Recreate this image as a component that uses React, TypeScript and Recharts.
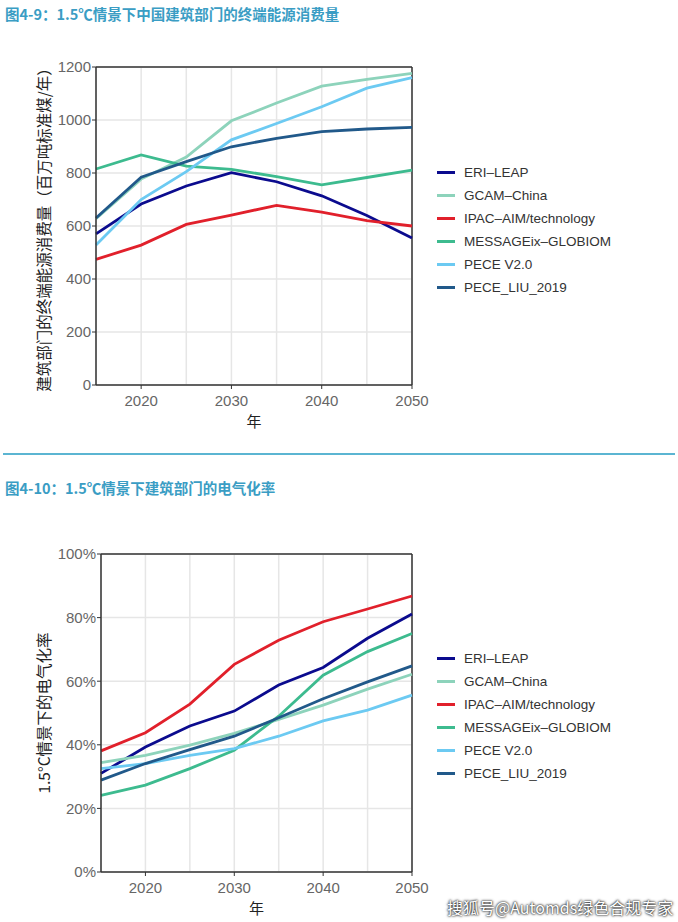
import { CartesianGrid, Line, LineChart, ReferenceLine, XAxis, YAxis } from "recharts";

const years = [2015, 2020, 2025, 2030, 2035, 2040, 2045, 2050];
const xTicks = [2020, 2030, 2040, 2050];
const minorYears = [2025, 2035, 2045];

const seriesNames = [
  "ERI–LEAP",
  "GCAM–China",
  "IPAC–AIM/technology",
  "MESSAGEix–GLOBIOM",
  "PECE V2.0",
  "PECE_LIU_2019",
];
const seriesColors = ["#0B0B8E", "#8DD3BB", "#E1202B", "#3DBB8F", "#6CCAF2", "#21598A"];

// 图4-9 终端能源消费量（百万吨标准煤/年）
const energyEri = [570, 683, 751, 801, 767, 714, 640, 555];
const energyGcam = [628, 777, 860, 997, 1064, 1128, 1153, 1176];
const energyIpac = [474, 528, 606, 641, 678, 652, 620, 600];
const energyMessage = [815, 868, 826, 814, 786, 755, 783, 811];
const energyPece = [528, 700, 805, 925, 987, 1050, 1120, 1160];
const energyLiu = [630, 784, 843, 899, 931, 956, 966, 972];
const energyTicks = [0, 200, 400, 600, 800, 1000, 1200];

// 图4-10 电气化率（%）
const elecEri = [31.0, 39.3, 45.9, 50.6, 58.8, 64.3, 73.5, 81.1];
const elecGcam = [34.4, 36.7, 39.9, 43.6, 48.0, 52.5, 57.5, 62.2];
const elecIpac = [38.1, 43.8, 52.8, 65.3, 72.9, 78.7, 82.7, 86.8];
const elecMessage = [24.1, 27.3, 32.5, 38.3, 49.0, 61.9, 69.3, 75.0];
const elecPece = [32.5, 34.1, 36.7, 38.8, 42.7, 47.5, 50.9, 55.6];
const elecLiu = [28.9, 34.1, 38.5, 42.7, 48.5, 54.5, 59.8, 64.8];
const elecTicks = [0, 20, 40, 60, 80, 100];

const keys = ["s0", "s1", "s2", "s3", "s4", "s5"];

function buildRows(series: number[][]) {
  return years.map((year, i) => {
    const row: Record<string, number> = { year };
    series.forEach((values, s) => {
      row[keys[s]] = values[i];
    });
    return row;
  });
}

const energyRows = buildRows([energyEri, energyGcam, energyIpac, energyMessage, energyPece, energyLiu]);
const elecRows = buildRows([elecEri, elecGcam, elecIpac, elecMessage, elecPece, elecLiu]);

const FONT = '"Liberation Sans", "Noto Sans CJK SC", sans-serif';
const CJK = '"Noto Sans CJK SC", "Liberation Sans", sans-serif';
const AXIS = "#333333";
const GRID = "#E6E6E6";
const TICK = { fontSize: 15, fill: "#666666", fontFamily: FONT };

interface ChartProps {
  rows: Record<string, number>[];
  top: number;
  height: number;
  margin: { top: number; right: number; bottom: number; left: number };
  yWidth: number;
  yTicks: number[];
  yMax: number;
  yLabel: string;
  labelOffset: number;
  percent?: boolean;
}

function ModelChart({ rows, top, height, margin, yWidth, yTicks, yMax, yLabel, labelOffset, percent }: ChartProps) {
  return (
    <div style={{ position: "absolute", left: 0, top }}>
      <LineChart width={678} height={height} data={rows} margin={margin}>
        <CartesianGrid stroke={GRID} strokeWidth={1.5} />
        {minorYears.map((y) => (
          <ReferenceLine key={y} x={y} stroke={GRID} strokeWidth={1.5} />
        ))}
        <XAxis
          dataKey="year"
          type="number"
          domain={[2015, 2050]}
          ticks={xTicks}
          height={45}
          tick={TICK}
          tickSize={4}
          tickMargin={6}
          axisLine={{ stroke: AXIS, strokeWidth: 1.5 }}
          tickLine={{ stroke: AXIS }}
          label={{
            value: "年",
            position: "insideBottom",
            offset: 3,
            style: { fontSize: 15, fill: "#222", fontFamily: CJK },
          }}
        />
        <YAxis
          type="number"
          domain={[0, yMax]}
          ticks={yTicks}
          width={yWidth}
          tick={TICK}
          tickSize={4}
          tickMargin={1}
          tickFormatter={(v) => (percent ? `${v}%` : `${v}`)}
          axisLine={{ stroke: AXIS, strokeWidth: 1.5 }}
          tickLine={{ stroke: AXIS }}
          label={{
            value: yLabel,
            angle: -90,
            position: "insideLeft",
            offset: labelOffset,
            style: { fontSize: 15.5, fill: "#222", fontFamily: CJK, textAnchor: "middle" },
          }}
        />
        <ReferenceLine y={yMax} stroke={AXIS} strokeWidth={1.5} />
        <ReferenceLine x={2050} stroke={AXIS} strokeWidth={1.5} />
        {keys.map((k, i) => (
          <Line
            key={k}
            dataKey={k}
            type="linear"
            stroke={seriesColors[i]}
            strokeWidth={2.8}
            dot={false}
            isAnimationActive={false}
          />
        ))}
      </LineChart>
    </div>
  );
}

function Legend({ top }: { top: number }) {
  return (
    <div style={{ position: "absolute", left: 437, top, fontFamily: FONT, fontSize: 13.5, color: "#333" }}>
      {seriesNames.map((name, i) => (
        <div key={name} style={{ display: "flex", alignItems: "center", height: 23 }}>
          <span style={{ width: 18, height: 3, background: seriesColors[i], marginRight: 9 }} />
          <span>{name}</span>
        </div>
      ))}
    </div>
  );
}

const titleStyle: React.CSSProperties = {
  position: "absolute",
  left: 5,
  fontFamily: CJK,
  fontWeight: 700,
  fontSize: 14.5,
  color: "#3A9DC4",
  whiteSpace: "nowrap",
};

export default function App() {
  return (
    <div style={{ position: "absolute", left: 0, top: 0, width: 678, height: 922, background: "#fff", overflow: "hidden" }}>
      <div style={{ ...titleStyle, top: 3 }}>图4-9：1.5℃情景下中国建筑部门的终端能源消费量</div>
      <ModelChart
        rows={energyRows}
        top={0}
        height={440}
        margin={{ top: 67, right: 266, bottom: 10, left: 40 }}
        yWidth={56}
        yTicks={energyTicks}
        yMax={1200}
        yLabel="建筑部门的终端能源消费量（百万吨标准煤/年）"
        labelOffset={4}
      />
      <Legend top={161} />
      <div style={{ position: "absolute", left: 3, top: 453, width: 672, height: 2, background: "#5BB5D2" }} />
      <div style={{ ...titleStyle, top: 477 }}>图4-10：1.5℃情景下建筑部门的电气化率</div>
      <ModelChart
        rows={elecRows}
        top={460}
        height={462}
        margin={{ top: 94, right: 266, bottom: 5, left: 41 }}
        yWidth={60}
        yTicks={elecTicks}
        yMax={100}
        yLabel="1.5°C情景下的电气化率"
        labelOffset={3}
        percent
      />
      <Legend top={647} />
      <div
        style={{
          position: "absolute",
          left: 447,
          top: 895,
          fontFamily: CJK,
          fontSize: 16,
          color: "#fff",
          textShadow: "0 0 2px #000, 0 0 3px #333",
          whiteSpace: "nowrap",
        }}
      >
        搜狐号@Automds绿色合规专家
      </div>
    </div>
  );
}
